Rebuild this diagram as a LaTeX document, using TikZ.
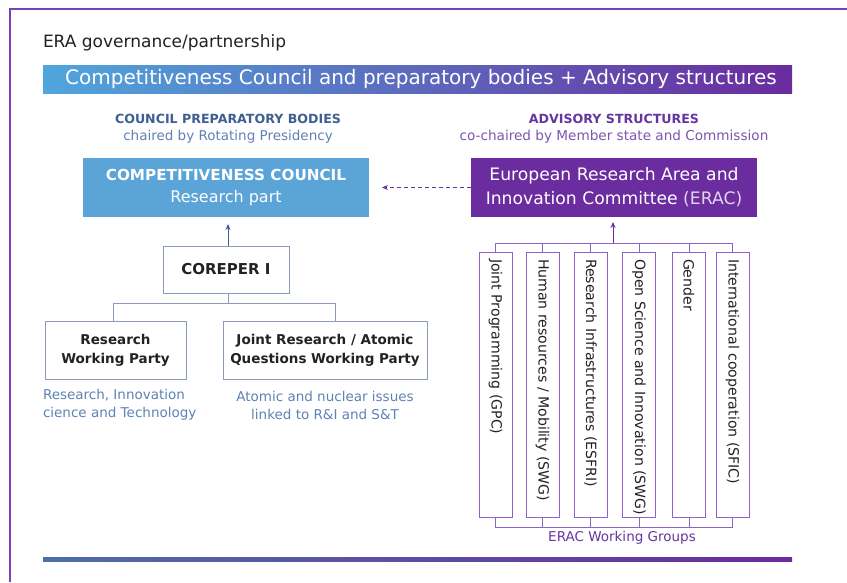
\documentclass[tikz,border=0pt]{standalone}
\usepackage{fontspec}
\setmainfont{DejaVu Sans}
\usetikzlibrary{arrows.meta}
\definecolor{framec}{HTML}{7B3FB8}
\definecolor{ccblue}{HTML}{5AA4D8}
\definecolor{eracc}{HTML}{6A2C9E}
\definecolor{hblue}{HTML}{3F5F92}
\definecolor{sblue}{HTML}{5F82B5}
\definecolor{hpurp}{HTML}{6536A0}
\definecolor{spurp}{HTML}{7D55B0}
\definecolor{gbord}{HTML}{8C9CB8}
\definecolor{pbord}{HTML}{8F63C6}
\definecolor{txt}{HTML}{222222}
\definecolor{bannerL}{HTML}{4FA6DC}
\definecolor{bannerR}{HTML}{6A2B9E}
\definecolor{lineL}{HTML}{4F6EA6}
\definecolor{lineR}{HTML}{6A2B9E}
\definecolor{arrblue}{HTML}{3F5F92}
\newcommand\fsz[2]{\fontsize{#1pt}{#2pt}\selectfont}
\begin{document}
\begin{tikzpicture}[x=1pt,y=-1pt,
  every node/.style={inner sep=0pt, outer sep=0pt},
  lbox/.style={draw=gbord, line width=1pt, fill=white, text=txt, align=center, font=\fsz{13.5}{19}\bfseries},
  wgbox/.style={draw=pbord, line width=1pt, fill=white, minimum width=33pt, minimum height=265pt, anchor=north},
  wgtext/.style={rotate=-90, anchor=west, text=txt, font=\fsz{14.1}{17}},
  pline/.style={draw=pbord, line width=1pt},
  gline/.style={draw=gbord, line width=1pt},
  tipb/.style={-{Stealth[length=6pt,width=5pt]}}
]
\useasboundingbox (0,0) rectangle (847,582);
\fill[white] (0,0) rectangle (847,582);
\draw[framec, line width=2pt] (10,582) -- (10,9) -- (847,9);

\node[anchor=west, text=txt, font=\fsz{17}{20}] (title) at (43,43) {ERA governance/partnership};
\shade[left color=bannerL, right color=bannerR] (43,65) rectangle (792,93);
\node[text=white, font=\fsz{20}{24}] (banner) at (421,79) {Competitiveness Council and preparatory bodies + Advisory structures};

\node[text=hblue, font=\fsz{12.6}{16}\bfseries] (lh1) at (228,119) {COUNCIL PREPARATORY BODIES};
\node[text=sblue, font=\fsz{13.5}{16}] (lh2) at (228,137) {chaired by Rotating Presidency};
\node[text=hpurp, font=\fsz{12.6}{16}\bfseries] (rh1) at (614,119) {ADVISORY STRUCTURES};
\node[text=spurp, font=\fsz{13.6}{16}] (rh2) at (614,137) {co-chaired by Member state and Commission};

\node[fill=ccblue, text=white, minimum width=286pt, minimum height=59pt, align=center, font=\fsz{16}{22}] (cc) at (226,187.5) {{\fsz{15.2}{22}\bfseries COMPETITIVENESS COUNCIL}\\Research part};
\node[fill=eracc, text=white, minimum width=286pt, minimum height=59pt, align=center, font=\fsz{17.2}{24}] (erac) at (614,187.5) {European Research Area and\\Innovation Committee {\color{white!80!eracc}(ERAC)}};
\draw[hpurp, line width=1pt, dashed, dash pattern=on 4pt off 3pt, tipb, shorten >=13pt] (erac.west) -- (cc.east);

\node[lbox, minimum width=126pt, minimum height=47pt, font=\fsz{15}{19}\bfseries] (cor) at (226,269.5) {COREPER I};
\draw[arrblue, line width=1pt, tipb, shorten >=7pt] ([xshift=2pt]cor.north) -- ([xshift=2pt]cor.north |- cc.south);

\node[lbox, minimum width=141pt, minimum height=58pt] (rwp) at (115.5,350) {Research\\Working Party};
\node[lbox, minimum width=204pt, minimum height=58pt] (jr) at (325,350) {Joint Research / Atomic\\Questions Working Party};
\coordinate (lb) at (228,303);
\draw[gline] ([xshift=2pt]cor.south) -- ([xshift=2pt]cor.south |- lb);
\draw[gline] ([xshift=-2.5pt]rwp.north) -- ([xshift=-2.5pt]rwp.north |- lb) -- ([xshift=10pt]jr.north |- lb) -- ([xshift=10pt]jr.north);

\node[anchor=west, text=sblue, font=\fsz{13.5}{18}, align=left] (rwpcap) at (43,405) {Research, Innovation\\cience and Technology};
\node[text=sblue, font=\fsz{13.5}{18}, align=center] (jrcap) at (325,405) {Atomic and nuclear issues\\linked to R\&I and S\&T};

\node[wgbox] (wg1) at (495.5,252) {};
\node[wgbox] (wg2) at (542.5,252) {};
\node[wgbox] (wg3) at (590.5,252) {};
\node[wgbox] (wg4) at (639,252) {};
\node[wgbox] (wg5) at (689,252) {};
\node[wgbox] (wg6) at (732.5,252) {};
\node[wgtext] (t1) at ([yshift=-7pt]wg1.north) {Joint Programming (GPC)};
\node[wgtext] (t2) at ([yshift=-7pt]wg2.north) {Human resources / Mobility (SWG)};
\node[wgtext] (t3) at ([yshift=-7pt]wg3.north) {Research Infrastructures (ESFRI)};
\node[wgtext] (t4) at ([yshift=-7pt]wg4.north) {Open Science and Innovation (SWG)};
\node[wgtext] (t5) at ([yshift=-7pt]wg5.north) {Gender};
\node[wgtext] (t6) at ([yshift=-7pt]wg6.north) {International cooperation (SFIC)};

\coordinate (tb) at (613,243);
\draw[pline] (wg1.north) -- (wg1.north |- tb) -- (wg6.north |- tb) -- (wg6.north);
\foreach \i in {2,3,4,5} { \draw[pline] (wg\i.north) -- (wg\i.north |- tb); }
\draw[eracc, line width=1pt, tipb, shorten >=5pt] (tb) -- (tb |- erac.south);

\coordinate (bb) at (622,527);
\draw[pline] (wg1.south) -- (wg1.south |- bb) -- (wg6.south |- bb) -- (wg6.south);
\foreach \i in {2,3,4,5} { \draw[pline] (wg\i.south) -- (wg\i.south |- bb); }
\node[text=hpurp, font=\fsz{13.5}{16}] (wglab) at (622,538) {ERAC Working Groups};

\shade[left color=lineL, right color=lineR] (43,557) rectangle (792,561);
\end{tikzpicture}
\end{document}
